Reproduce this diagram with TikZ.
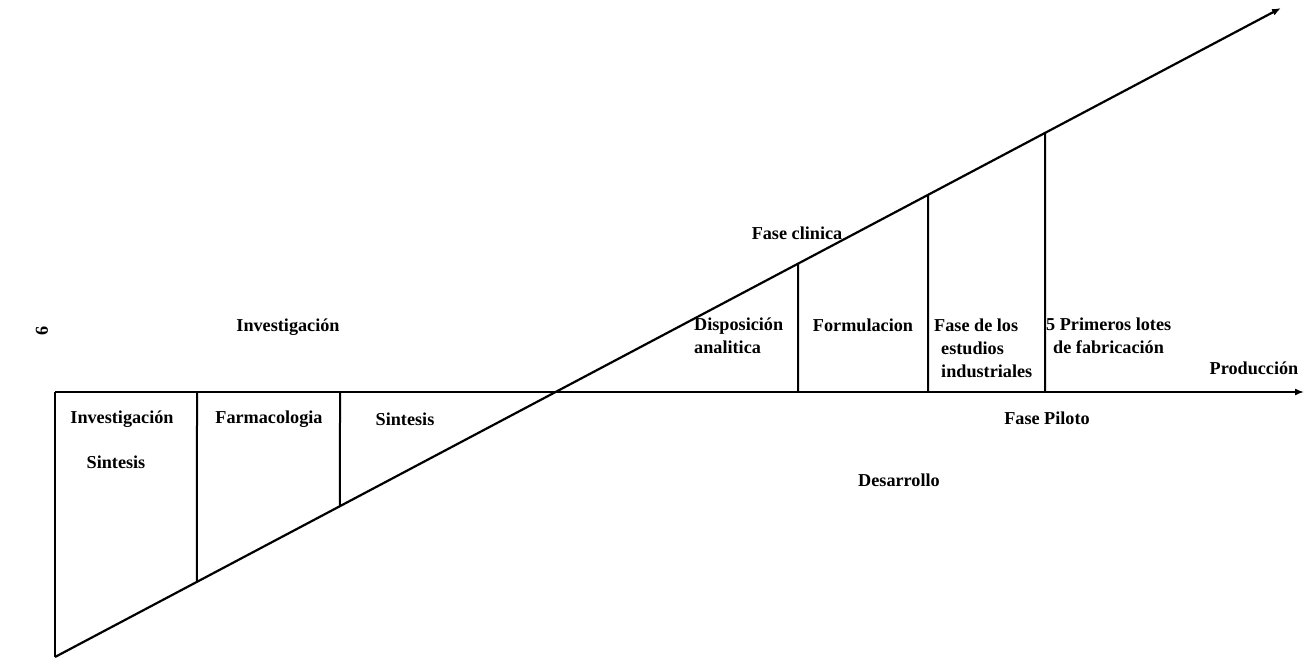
\documentclass[tikz,border=0pt]{standalone}
\usepackage{fontspec}
\setmainfont{Liberation Serif}
\usetikzlibrary{arrows.meta,calc}
\begin{document}
\begin{tikzpicture}[x=1pt,y=-1pt,
  axis/.style={line width=1.6pt,-{Latex[length=9pt,width=7pt]}},
  divider/.style={line width=2pt},
  lbl/.style={font=\fontsize{18.2}{23}\selectfont\bfseries,inner sep=0pt},
  lblw/.style={lbl,anchor=west,align=left}]
\useasboundingbox (0,0) rectangle (1307,659);

% axes
\coordinate (h0) at (55,392);
\coordinate (h1) at (1304,392);
\coordinate (d0) at (55,657);
\coordinate (d1) at (1281,8);
\draw[axis] (h0) -- (h1);
\draw[axis,line width=2.2pt] (d0) -- (d1);

% phase dividers, from the baseline up or down to the slope
\foreach \n/\x in {a/55,b/197,c/340,d/798,e/928,f/1045}{
  \coordinate (b\n) at (\x,392);
  \coordinate (t\n) at ($(d0)!{(\x-55)/1226}!(d1)$);
  \draw[divider] (b\n) -- (t\n);
}

% labels
\node[lbl,rotate=90] (six) at (42,331) {6};
\node[lbl] (inv) at (288,327) {Investigación};
\node[lbl] (inv1) at (122,419) {Investigación};
\node[lbl] (sin1) at (116,462) {Sintesis};
\node[lbl] (farm) at (269,419) {Farmacologia};
\node[lbl] (sin2) at (405,419) {Sintesis};
\node[lbl] (clin) at (797,233) {Fase clinica};
\node[lblw] (disp) at (694,336) {Disposición\\analitica};
\node[lbl] (form) at (863,325) {Formulacion};
\node[lblw] (estu) at (934,348) {Fase de los\\\hspace*{7pt}estudios\\\hspace*{7pt}industriales};
\node[lblw] (lote) at (1046,336) {5 Primeros lotes\\\hspace*{7pt}de fabricación};
\node[lbl] (prod) at (1254,368) {Producción};
\node[lbl] (pil) at (1047,418) {Fase Piloto};
\node[lbl] (des) at (899,480) {Desarrollo};
\end{tikzpicture}
\end{document}
